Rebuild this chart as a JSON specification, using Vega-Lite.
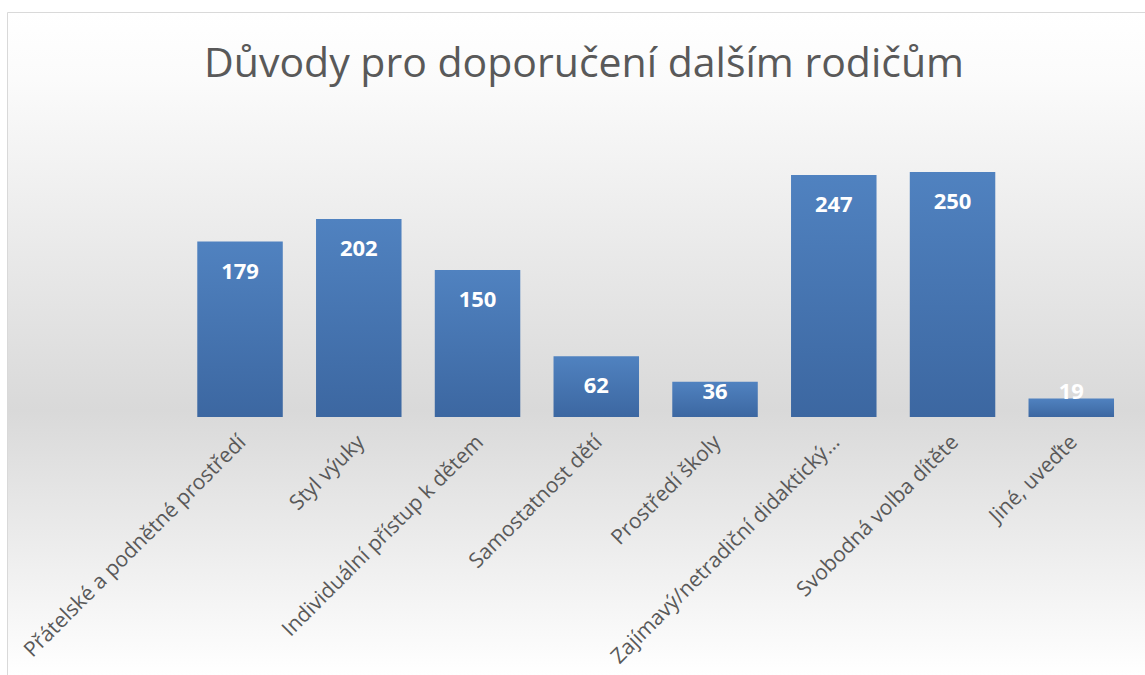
{
  "$schema": "https://vega.github.io/schema/vega-lite/v6.json",
  "width": 1138,
  "height": 663,
  "autosize": {"type": "none"},
  "padding": {"left": 7, "top": 12, "right": 0, "bottom": 0},
  "background": "#ffffff",
  "title": {
    "text": "Důvody pro doporučení dalším rodičům",
    "font": "Open Sans",
    "fontSize": 41,
    "fontWeight": "normal",
    "color": "#595959",
    "anchor": "middle",
    "offset": -74,
    "dx": 8
  },
  "config": {
    "view": {
      "stroke": "#d9d9d9",
      "strokeWidth": 1,
      "fill": {
        "gradient": "linear",
        "x1": 0, "y1": 0, "x2": 0, "y2": 1,
        "stops": [
          {"offset": 0, "color": "#ffffff"},
          {"offset": 0.1, "color": "#fbfbfb"},
          {"offset": 0.6, "color": "#d9d9d9"},
          {"offset": 1, "color": "#ffffff"}
        ]
      }
    }
  },
  "data": {
    "values": [
      {"reason": "Přátelské a podnětné prostředí", "count": 179},
      {"reason": "Styl výuky", "count": 202},
      {"reason": "Individuální přístup k dětem", "count": 150},
      {"reason": "Samostatnost dětí", "count": 62},
      {"reason": "Prostředí školy", "count": 36},
      {"reason": "Zajímavý/netradiční didaktický…", "count": 247},
      {"reason": "Svobodná volba dítěte", "count": 250},
      {"reason": "Jiné, uveďte", "count": 19}
    ]
  },
  "encoding": {
    "x": {
      "field": "reason",
      "type": "nominal",
      "sort": null,
      "scale": {"paddingInner": 0.28, "paddingOuter": 0.9316, "align": 0.86},
      "axis": {
        "title": null,
        "orient": "bottom",
        "offset": -258,
        "domain": false,
        "ticks": false,
        "labelAngle": -45,
        "labelAlign": "right",
        "labelBaseline": "top",
        "labelPadding": 14,
        "labelOffset": -5,
        "labelFont": "Open Sans",
        "labelFontSize": 21,
        "labelColor": "#595959",
        "labelLimit": 500,
        "labelOverlap": false
      }
    }
  },
  "layer": [
    {
      "mark": {
        "type": "bar",
        "color": {
          "gradient": "linear",
          "x1": 0, "y1": 0, "x2": 0, "y2": 1,
          "stops": [
            {"offset": 0, "color": "#5082c0"},
            {"offset": 1, "color": "#3c67a1"}
          ]
        }
      },
      "encoding": {
        "y": {
          "field": "count",
          "type": "quantitative",
          "scale": {"domain": [-263.27, 413.27], "nice": false, "zero": false},
          "axis": null
        }
      }
    },
    {
      "transform": [{"filter": "datum.count >= 50"}],
      "mark": {
        "type": "text",
        "color": "#ffffff",
        "font": "Open Sans",
        "fontSize": 22,
        "fontWeight": "bold",
        "baseline": "middle",
        "dy": 30
      },
      "encoding": {
        "y": {"field": "count", "type": "quantitative"},
        "text": {"field": "count", "type": "quantitative"}
      }
    },
    {
      "transform": [{"filter": "datum.count < 50"}],
      "mark": {
        "type": "text",
        "color": "#ffffff",
        "font": "Open Sans",
        "fontSize": 22,
        "fontWeight": "bold",
        "baseline": "middle"
      },
      "encoding": {
        "y": {"datum": 26, "type": "quantitative"},
        "text": {"field": "count", "type": "quantitative"}
      }
    }
  ]
}
